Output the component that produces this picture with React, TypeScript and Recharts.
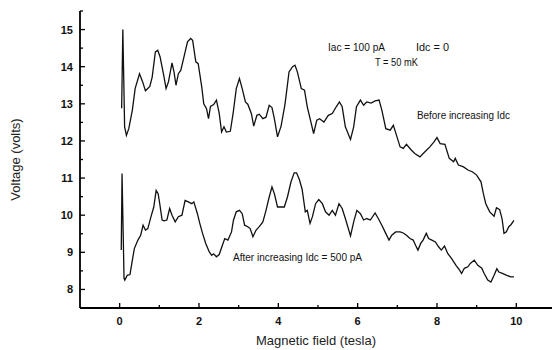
import { LineChart, Line, XAxis, YAxis } from 'recharts';

// trace recorded at Idc = 0
const beforeField = [
  0.05, 0.08, 0.125, 0.17, 0.23, 0.32, 0.39, 0.5, 0.58, 0.65, 0.76, 0.82, 0.9, 0.96, 1.02, 1.11, 1.17, 1.23,
  1.32, 1.37, 1.42, 1.48, 1.54, 1.62, 1.71, 1.79, 1.84, 1.92, 1.98, 2.07, 2.12, 2.19, 2.24, 2.29, 2.37, 2.44,
  2.51, 2.57, 2.63, 2.69, 2.79, 2.86, 2.94, 3.02, 3.09, 3.17, 3.23, 3.32, 3.38, 3.46, 3.52, 3.61, 3.69, 3.77,
  3.84, 3.9, 3.98, 4.07, 4.17, 4.27, 4.36, 4.42, 4.48, 4.58, 4.66, 4.73, 4.81, 4.89, 4.97, 5.04, 5.15, 5.26,
  5.36, 5.46, 5.54, 5.61, 5.69, 5.82, 5.9, 5.97, 6.07, 6.15, 6.23, 6.34, 6.44, 6.54, 6.61, 6.71, 6.82, 6.9,
  6.98, 7.07, 7.15, 7.23, 7.34, 7.44, 7.57, 7.69, 7.82, 7.92, 8.0, 8.08, 8.2, 8.31, 8.42, 8.46, 8.54, 8.67,
  8.79, 8.89, 9.0, 9.11, 9.17, 9.23, 9.33, 9.44, 9.5, 9.58, 9.64, 9.69, 9.75, 9.81, 9.87, 9.94,
];
const beforeVolt = [
  12.88, 15.0, 12.38, 12.15, 12.33, 12.83, 13.41, 13.81, 13.59, 13.35, 13.47, 13.72, 14.4, 14.44, 14.26, 13.77, 13.41, 13.59,
  14.1, 13.86, 13.5, 13.81, 13.9, 14.26, 14.67, 14.76, 14.71, 14.13, 14.08, 13.45, 13.0, 12.87, 12.6, 12.93, 12.98, 13.1,
  12.74, 12.24, 12.38, 12.24, 12.26, 12.74, 13.41, 13.68, 13.41, 13.05, 12.99, 12.74, 12.4, 12.69, 12.72, 12.6, 12.64, 12.96,
  12.9, 12.6, 12.11, 12.4, 13.0, 13.86, 14.0, 14.04, 13.86, 13.41, 13.37, 12.92, 12.56, 12.2, 12.56, 12.6, 12.51, 12.69,
  12.74, 12.92, 13.05, 12.92, 12.38, 12.04, 12.38, 12.92, 13.1, 12.96, 13.05, 13.02, 13.08, 13.1, 12.83, 12.33, 12.29, 12.42,
  12.15, 11.84, 11.8, 11.91, 11.77, 11.66, 11.57, 11.7, 11.84, 11.97, 12.09, 11.93, 11.91, 11.53, 11.44, 11.53, 11.35, 11.3,
  11.21, 11.17, 11.08, 10.9, 10.58, 10.31, 10.09, 9.97, 10.2, 10.15, 9.91, 9.51, 9.55, 9.69, 9.75, 9.86,
];

// trace recorded after raising Idc to 500 pA
const afterField = [
  0.04, 0.06, 0.11, 0.13, 0.19, 0.26, 0.32, 0.37, 0.46, 0.53, 0.59, 0.65, 0.71, 0.79, 0.86, 0.92, 0.97, 1.01,
  1.07, 1.12, 1.19, 1.26, 1.32, 1.4, 1.48, 1.57, 1.65, 1.73, 1.82, 1.87, 1.96, 2.02, 2.09, 2.17, 2.26, 2.32,
  2.37, 2.44, 2.51, 2.59, 2.65, 2.73, 2.82, 2.87, 2.94, 3.02, 3.09, 3.15, 3.23, 3.29, 3.36, 3.44, 3.52, 3.61,
  3.69, 3.77, 3.84, 3.9, 3.98, 4.07, 4.15, 4.23, 4.32, 4.4, 4.46, 4.53, 4.6, 4.68, 4.73, 4.8, 4.86, 4.94,
  5.02, 5.11, 5.19, 5.28, 5.36, 5.44, 5.53, 5.61, 5.69, 5.82, 5.9, 5.98, 6.07, 6.15, 6.23, 6.32, 6.44, 6.52,
  6.61, 6.69, 6.79, 6.86, 6.96, 7.07, 7.15, 7.23, 7.32, 7.4, 7.46, 7.52, 7.59, 7.65, 7.73, 7.79, 7.87, 7.96,
  8.04, 8.11, 8.19, 8.27, 8.37, 8.48, 8.57, 8.62, 8.69, 8.78, 8.84, 8.94, 9.03, 9.13, 9.19, 9.28, 9.36, 9.44,
  9.51, 9.56, 9.65, 9.76, 9.86, 9.94,
];
const afterVolt = [
  9.06, 11.12, 8.3, 8.25, 8.38, 8.4, 8.79, 9.1, 9.33, 9.46, 9.73, 9.6, 9.64, 9.96, 10.22, 10.67, 10.58, 10.31,
  9.87, 9.85, 9.87, 10.18, 10.0, 9.82, 9.96, 10.0, 10.4, 10.36, 10.31, 10.36, 10.04, 9.78, 9.51, 9.24, 9.01, 8.92,
  8.96, 8.88, 8.94, 9.19, 9.37, 9.33, 9.55, 9.87, 10.09, 10.13, 10.04, 9.73, 9.69, 9.64, 9.42, 9.6, 9.69, 9.82,
  10.13, 10.49, 10.76, 10.58, 10.22, 10.22, 10.22, 10.49, 10.9, 11.14, 11.14, 10.96, 10.7, 10.09, 10.13, 9.78, 9.96, 10.31,
  10.42, 10.31, 10.09, 10.0, 10.13, 10.0, 10.31, 10.18, 9.91, 9.44, 9.82, 10.13, 10.04, 9.87, 9.91, 9.87, 10.06, 9.91,
  9.73, 9.55, 9.33, 9.46, 9.55, 9.55, 9.52, 9.46, 9.37, 9.33, 9.19, 9.06, 9.24, 9.33, 9.51, 9.37, 9.33, 9.28,
  9.15, 9.06, 9.17, 8.97, 8.83, 8.65, 8.52, 8.43, 8.57, 8.61, 8.7, 8.79, 8.65, 8.57, 8.43, 8.25, 8.2, 8.38,
  8.56, 8.47, 8.43, 8.38, 8.34, 8.34,
];

const xTicks = [0, 1, 2, 3, 4, 5, 6, 7, 8, 9, 10];
const yTicks = [8, 8.5, 9, 9.5, 10, 10.5, 11, 11.5, 12, 12.5, 13, 13.5, 14, 14.5, 15, 15.5];

const beforeData = beforeField.map((f, i) => ({ field: f, volt: beforeVolt[i] }));
const afterData = afterField.map((f, i) => ({ field: f, volt: afterVolt[i] }));

const tickFont = { fontFamily: 'Liberation Sans, Arial, sans-serif', fontSize: 11, fontWeight: 700 };

const XTick = (props: any) => {
  const { x, y, payload } = props;
  const v = payload.value;
  const major = v % 2 === 0;
  return (
    <g>
      <line x1={x} y1={y} x2={x} y2={y - (major ? 5 : 3)} stroke="#000" strokeWidth={1.3} />
      {major && (
        <text x={x} y={y + 17} textAnchor="middle" fill="#111" {...tickFont}>
          {v}
        </text>
      )}
    </g>
  );
};

const YTick = (props: any) => {
  const { x, y, payload } = props;
  const v = payload.value;
  const major = Number.isInteger(v);
  return (
    <g>
      <line x1={x} y1={y} x2={x + (major ? 5 : 3)} y2={y} stroke="#000" strokeWidth={1.3} />
      {major && (
        <text x={x - 7} y={y + 4} textAnchor="end" fill="#111" {...tickFont}>
          {v}
        </text>
      )}
    </g>
  );
};

const noteStyle = { fontFamily: 'Liberation Sans, Arial, sans-serif', fontSize: 10, fill: '#111' };

export default function App() {
  return (
    <div style={{ position: 'absolute', left: 0, top: 0, width: 552, height: 350, background: '#fff' }}>
      <LineChart width={552} height={350} margin={{ top: 11, right: 0, bottom: 0, left: 0 }}>
        <XAxis
          type="number"
          dataKey="field"
          domain={[-1, 10.9]}
          ticks={xTicks}
          interval={0}
          allowDataOverflow
          height={42}
          tickSize={0}
          tickMargin={0}
          tickLine={false}
          tick={<XTick />}
          axisLine={{ stroke: '#000', strokeWidth: 1.8 }}
          label={{
            value: 'Magnetic field (tesla)',
            position: 'insideBottom',
            offset: 5,
            style: { fontFamily: 'Liberation Sans, Arial, sans-serif', fontSize: 13, fill: '#222' },
          }}
        />
        <YAxis
          type="number"
          domain={[7.5, 15.5]}
          ticks={yTicks}
          interval={0}
          allowDataOverflow
          width={80}
          tickSize={0}
          tickMargin={0}
          tickLine={false}
          tick={<YTick />}
          axisLine={{ stroke: '#000', strokeWidth: 1.8 }}
          label={{
            value: 'Voltage (volts)',
            angle: -90,
            position: 'insideLeft',
            offset: 15,
            style: { textAnchor: 'middle', fontFamily: 'Liberation Sans, Arial, sans-serif', fontSize: 13, fill: '#222' },
          }}
        />
        <Line
          data={beforeData}
          dataKey="volt"
          type="linear"
          stroke="#111"
          strokeWidth={1.3}
          dot={false}
          isAnimationActive={false}
        />
        <Line
          data={afterData}
          dataKey="volt"
          type="linear"
          stroke="#111"
          strokeWidth={1.3}
          dot={false}
          isAnimationActive={false}
        />
      </LineChart>
      <svg width={552} height={350} style={{ position: 'absolute', left: 0, top: 0, pointerEvents: 'none' }}>
        <text x={328} y={51} textLength={57} lengthAdjust="spacingAndGlyphs" {...noteStyle}>Iac = 100 pA</text>
        <text x={416} y={51} textLength={33} lengthAdjust="spacingAndGlyphs" {...noteStyle}>Idc = 0</text>
        <text x={375} y={66} textLength={43} lengthAdjust="spacingAndGlyphs" {...noteStyle}>T = 50 mK</text>
        <text x={417} y={119} textLength={93} lengthAdjust="spacingAndGlyphs" {...noteStyle}>Before increasing Idc</text>
        <text x={233} y={261} textLength={129} lengthAdjust="spacingAndGlyphs" {...noteStyle}>After increasing Idc = 500 pA</text>
      </svg>
    </div>
  );
}
